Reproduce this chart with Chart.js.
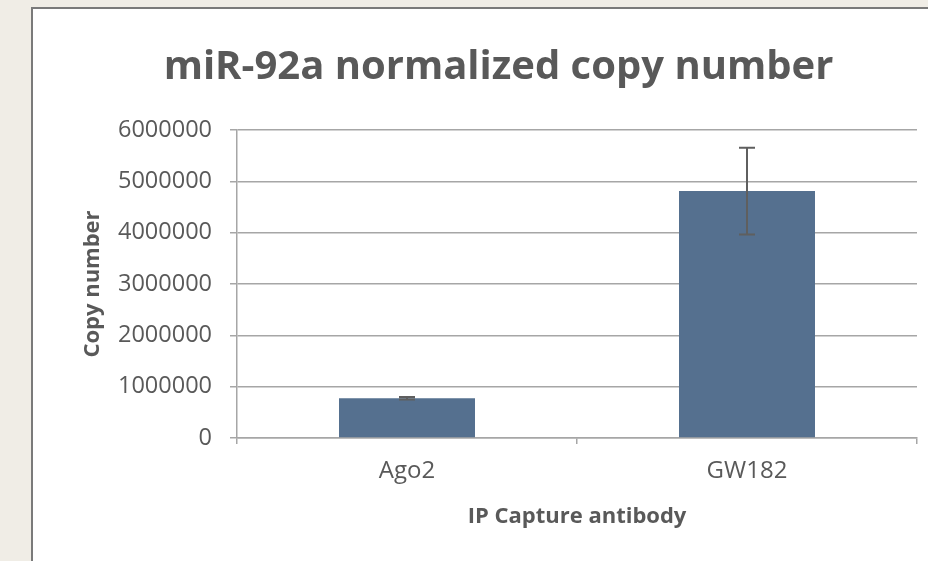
<!DOCTYPE html>
<html>
<head>
<meta charset="utf-8">
<script src="https://cdn.jsdelivr.net/npm/chart.js@4.4.0/dist/chart.umd.min.js"></script>
<style>
  html, body { margin: 0; padding: 0; background: #f0ede6; }
  #wrap { position: absolute; left: 0; top: 0; width: 928px; height: 561px; }
</style>
</head>
<body>
<div id="wrap"><canvas id="c" width="928" height="561"></canvas></div>
<script>
const categories = ["Ago2", "GW182"];
const copyNumbers = [775000, 4810000];
const errorValues = [25000, 845000];
const yTicks = [0, 1000000, 2000000, 3000000, 4000000, 5000000, 6000000];

const frame = {
  id: 'frame',
  beforeDraw(chart) {
    const ctx = chart.ctx;
    ctx.save();
    ctx.fillStyle = '#f0ede6';
    ctx.fillRect(0, 0, chart.width, chart.height);
    ctx.fillStyle = '#ffffff';
    ctx.fillRect(32, 8, chart.width - 32, chart.height - 8);
    ctx.strokeStyle = '#7a7a7a';
    ctx.lineWidth = 2;
    ctx.beginPath();
    ctx.moveTo(32, chart.height);
    ctx.lineTo(32, 8);
    ctx.lineTo(chart.width, 8);
    ctx.stroke();
    ctx.restore();
  }
};

const errorBars = {
  id: 'errorBars',
  afterDatasetsDraw(chart) {
    const ctx = chart.ctx;
    const meta = chart.getDatasetMeta(0);
    const y = chart.scales.y;
    ctx.save();
    ctx.strokeStyle = '#5f5f5f';
    ctx.lineWidth = 2;
    meta.data.forEach((bar, i) => {
      const v = copyNumbers[i], e = errorValues[i];
      const top = y.getPixelForValue(v + e);
      const bot = y.getPixelForValue(v - e);
      const x = bar.x;
      ctx.beginPath();
      ctx.moveTo(x, top); ctx.lineTo(x, bot);
      ctx.moveTo(x - 8, top); ctx.lineTo(x + 8, top);
      ctx.moveTo(x - 8, bot); ctx.lineTo(x + 8, bot);
      ctx.stroke();
    });
    ctx.restore();
  }
};

new Chart(document.getElementById('c'), {
  type: 'bar',
  data: {
    labels: categories,
    datasets: [{
      data: copyNumbers,
      backgroundColor: '#55708f',
      borderWidth: 0,
      categoryPercentage: 1.0,
      barPercentage: 0.4
    }]
  },
  options: {
    responsive: false,
    animation: false,
    devicePixelRatio: 1,
    layout: { padding: { left: 80, right: 11, top: 44, bottom: 23 } },
    plugins: {
      legend: { display: false },
      tooltip: { enabled: false },
      title: {
        display: true,
        text: 'miR-92a normalized copy number',
        color: '#595959',
        font: { family: 'Open Sans', size: 40, weight: 'bold' },
        padding: { top: 0, bottom: 38 }
      }
    },
    scales: {
      x: {
        afterFit(s) { s.height = 100; },
        grid: { display: true, drawOnChartArea: false, drawTicks: true, tickLength: 6, color: '#a6a6a6', lineWidth: 1.5, offset: true },
        border: { display: true, color: '#a6a6a6', width: 1.5 },
        ticks: { color: '#595959', font: { family: 'Open Sans', size: 24 }, padding: 13 },
        title: {
          display: true,
          text: 'IP Capture antibody',
          color: '#595959',
          font: { family: 'Open Sans', size: 22, weight: 'bold' },
          padding: { top: 0, bottom: 8 }
        }
      },
      y: {
        min: 0,
        max: 6000000,
        afterFit(s) { s.width = 157; },
        afterBuildTicks(s) { s.ticks = yTicks.map(v => ({ value: v })); },
        grid: { color: '#a6a6a6', lineWidth: 1.5, tickLength: 7, drawTicks: true },
        border: { display: true, color: '#a6a6a6', width: 1.5 },
        ticks: {
          color: '#595959',
          font: { family: 'Open Sans', size: 23.5 },
          padding: 18,
          callback: v => String(v)
        },
        title: {
          display: true,
          text: 'Copy number',
          color: '#595959',
          font: { family: 'Open Sans', size: 22, weight: 'bold' },
          padding: { top: 0, bottom: 0 }
        }
      }
    }
  },
  plugins: [frame, errorBars]
});
</script>
</body>
</html>
